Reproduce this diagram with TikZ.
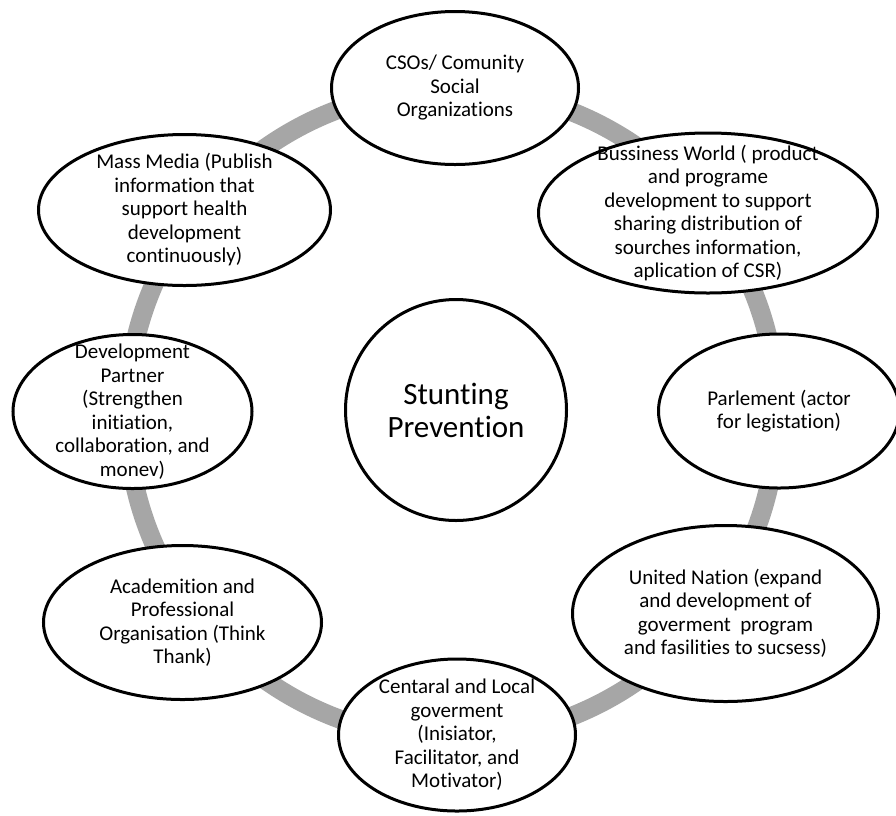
\documentclass[tikz,border=0pt]{standalone}
\usepackage{fontspec}
\setmainfont{Carlito}[Ligatures=NoCommon]
\usetikzlibrary{shapes.geometric}
\definecolor{ringgray}{RGB}{166,166,166}

\begin{document}
\begin{tikzpicture}[x=1pt, y=-1pt,
    actor/.style={draw, ellipse, fill=white, line width=3pt},
    actortext/.style={align=center, inner sep=0pt,
        font=\fontsize{21}{23.5}\selectfont},
    ring/.style={draw=ringgray, line width=19pt}]
    \useasboundingbox (0,0) rectangle (896,815);

    % Ring
    \coordinate (RingCenter) at (452,414);
    \draw [ring] (RingCenter) circle [radius=325pt];

    % Center
    \node [draw, circle,
        line width=3pt,
        fill=white,
        minimum size=221pt,
        inner sep=0pt,
        align=center,
        font=\fontsize{31}{33}\selectfont
    ]  (Stunting) at (456,410) {Stunting\\Prevention};

    % Actors
    \node [actor,
        minimum width=247pt,
        minimum height=153pt
    ]  (CSOs) at (455,88) {};
    \node [actortext] (CSOsText) at (CSOs) {CSOs/ Comunity\\Social\\Organizations};

    \node [actor,
        minimum width=339pt,
        minimum height=160pt
    ]  (Business) at (708,213) {};
    \node [actortext] (BusinessText) at (Business) {Bussiness World ( product\\and programe\\development to support\\sharing distribution of\\sourches information,\\aplication of CSR)};

    \node [actor,
        minimum width=241pt,
        minimum height=154pt
    ]  (Parlement) at (779,411) {};
    \node [actortext] (ParlementText) at (Parlement) {Parlement (actor\\for legistation)};

    % Actors
    \node [actor,
        minimum width=306pt,
        minimum height=176pt
    ]  (UnitedNation) at (725.5,613.5) {};
    \node [actortext] (UnitedNationText) at (UnitedNation) {United Nation (expand\\and development of\\goverment\ \ program\\and fasilities to sucsess)};

    \node [actor,
        minimum width=237pt,
        minimum height=152pt
    ]  (Government) at (457,735) {};
    \node [actortext] (GovernmentText) at (Government) {Centaral and Local\\goverment\\(Inisiator,\\Facilitator, and\\Motivator)};

    \node [actor,
        minimum width=278pt,
        minimum height=154pt
    ]  (Academition) at (182.5,622.5) {};
    \node [actortext] (AcademitionText) at (Academition) {Academition and\\Professional\\Organisation (Think\\Thank)};

    % Actors
    \node [actor,
        minimum width=239pt,
        minimum height=154pt
    ]  (Partner) at (132.5,411.5) {};
    \node [actortext] (PartnerText) at (Partner) {Development\\Partner\\(Strengthen\\initiation,\\collaboration, and\\monev)};

    \node [actor,
        minimum width=292pt,
        minimum height=151pt
    ]  (MassMedia) at (184.5,210) {};
    \node [actortext] (MassMediaText) at (MassMedia) {Mass Media (Publish\\information that\\support health\\development\\continuously)};

\end{tikzpicture}
\end{document}
